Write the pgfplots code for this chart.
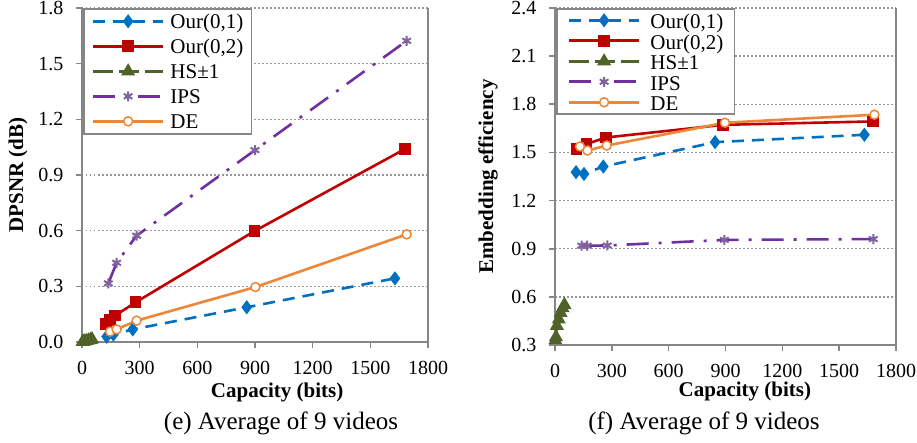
\documentclass[border=0pt]{standalone}
\usepackage{fontspec}
\setmainfont{Liberation Serif}
\usepackage{pgfplots}
\pgfplotsset{compat=1.18}
\definecolor{cblue}{RGB}{0,112,192}
\definecolor{cred}{RGB}{192,0,0}
\definecolor{cgreen}{RGB}{79,98,40}
\definecolor{cpurple}{RGB}{112,48,160}
\definecolor{cpurplem}{RGB}{128,100,162}
\definecolor{corange}{RGB}{237,135,55}
\definecolor{cgrid}{RGB}{150,150,150}
\definecolor{caxis}{RGB}{134,134,134}

\pgfplotsset{
  myaxis/.style={
    scale only axis,
    xmin=0, xmax=1800,
    xtick={0,300,600,900,1200,1500,1800},
    axis x line*=bottom, axis y line*=box,
    ytick pos=left,
    axis line style={draw=caxis, line width=1.6pt},
    tick style={draw=caxis, line width=1.6pt},
    tick align=outside,
    major tick length=6pt,
    ymajorgrids,
    grid style={draw=cgrid, line width=1.4pt, dash pattern=on 1.5pt off 2.5pt},
    /pgf/number format/assume math mode=true,
    /pgf/number format/1000 sep={},
    ticklabel style={font=\fontsize{20}{24}\selectfont},
    xticklabel style={yshift=-10pt},
    yticklabel style={xshift=-9pt, /pgf/number format/fixed, /pgf/number format/fixed zerofill, /pgf/number format/precision=1},
    label style={font=\fontsize{21}{25}\selectfont\bfseries},
    ylabel style={anchor=center},
    xlabel style={anchor=center},
    legend cell align=left,
    legend style={anchor=north west, draw=caxis, line width=1.6pt, fill=white,
      font=\fontsize{21}{25}\selectfont, inner ysep=2pt,
      nodes={inner sep=0pt, text height=18pt}},
    legend image code/.code={\draw[mark repeat=2,mark phase=2] plot coordinates {(0pt,0pt)(35pt,0pt)(70pt,0pt)};},
  },
  s1/.style={color=cblue, line width=2.6pt, dash pattern=on 12pt off 8pt, mark=diamond*, mark size=5pt, mark options={solid}},
  s2/.style={color=cred, line width=2.6pt, solid, mark=square*, mark size=4.5pt, mark options={solid}},
  s3/.style={color=cgreen, line width=2.6pt, dash pattern=on 20pt off 6pt, mark=triangle*, mark size=5.5pt, mark options={solid}},
  s4/.style={color=cpurple, line width=2.6pt, dash pattern=on 22pt off 10pt on 3pt off 10pt, mark=asterisk, mark size=5pt, mark options={solid, draw=cpurplem, line width=2pt}},
  s5/.style={color=corange, line width=2.6pt, solid, mark=*, mark size=4.5pt, mark options={solid, fill=white, draw=corange, line width=1.5pt}},
}

\begin{document}
\begin{tikzpicture}
\useasboundingbox (0,0) rectangle (917pt,443pt);

\begin{axis}[myaxis,
  at={(82pt,101pt)}, anchor=south west,
  width=346pt, height=334pt,
  ymin=0, ymax=1.8,
  ytick={0,0.3,0.6,0.9,1.2,1.5,1.8},
  xlabel={Capacity (bits)},
  ylabel={DPSNR (dB)},
  xlabel style={at={(axis description cs:0.564,-0.15)}},
  ylabel style={at={(axis description cs:-0.185,0.5)}},
  legend style={at={(axis description cs:0.003,1)}, row sep=4pt, column sep=6pt,
    inner xsep=8pt, nodes={text depth=3pt}},
]
\addplot[s1] coordinates {(128,0.029) (163,0.040) (264,0.068) (857,0.187) (1628,0.343)};
\addlegendentry{Our(0,1)}
\addplot[s2] coordinates {(125,0.097) (146,0.118) (172,0.142) (279,0.214) (898,0.598) (1680,1.04)};
\addlegendentry{Our(0,2)}
\addplot[s3] coordinates {(3,0.001) (8,0.002) (15,0.004) (25,0.006) (35,0.009) (45,0.012) (52,0.015)};
\addlegendentry{HS±1}
\addplot[s4] coordinates {(137,0.316) (180,0.427) (284,0.573) (900,1.034) (1689,1.623)};
\addlegendentry{IPS}
\addplot[s5] coordinates {(146,0.056) (180,0.068) (284,0.115) (902,0.296) (1689,0.58)};
\addlegendentry{DE}
\end{axis}

\begin{axis}[myaxis,
  at={(555pt,98pt)}, anchor=south west,
  width=341pt, height=337pt,
  ymin=0.3, ymax=2.4,
  ytick={0.3,0.6,0.9,1.2,1.5,1.8,2.1,2.4},
  xlabel={Capacity (bits)},
  ylabel={Embedding efficiency},
  xlabel style={at={(axis description cs:0.557,-0.139)}},
  ylabel style={at={(axis description cs:-0.196,0.5)}},
  legend style={at={(axis description cs:0.003,1)}, row sep=1.5pt, column sep=10pt,
    inner xsep=11pt, nodes={text depth=1pt}},
]
\addplot[s1] coordinates {(111,1.377) (153,1.366) (255,1.412) (845,1.564) (1633,1.61)};
\addlegendentry{Our(0,1)}
\addplot[s2] coordinates {(114,1.522) (167,1.553) (269,1.593) (888,1.672) (1677,1.693)};
\addlegendentry{Our(0,2)}
\addplot[s3] coordinates {(2,0.33) (5,0.35) (10,0.42) (20,0.46) (30,0.50) (40,0.53) (50,0.55)};
\addlegendentry{HS±1}
\addplot[s4] coordinates {(141,0.919) (170,0.919) (276,0.92) (894,0.955) (1680,0.96)};
\addlegendentry{IPS}
\addplot[s5] coordinates {(132,1.537) (171,1.512) (273,1.543) (897,1.685) (1686,1.735)};
\addlegendentry{DE}
\end{axis}

\node[font=\fontsize{25}{29}\selectfont] at (281pt,20pt) {(e) Average of 9 videos};
\node[font=\fontsize{25}{29}\selectfont] at (704pt,20pt) {(f) Average of 9 videos};
\end{tikzpicture}
\end{document}
